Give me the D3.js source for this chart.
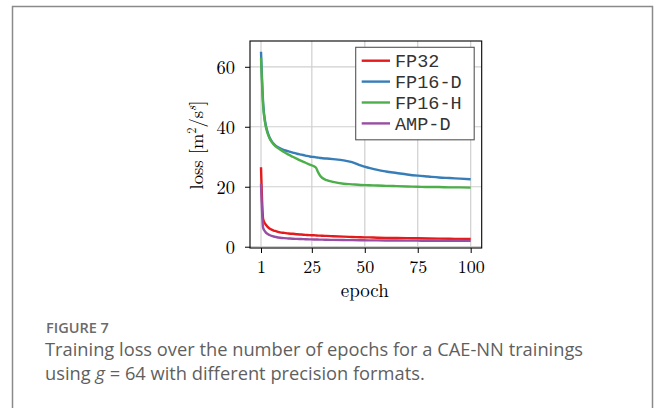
<!DOCTYPE html>
<html>
<head>
<meta charset="utf-8">
<script src="https://cdn.jsdelivr.net/npm/d3@7/dist/d3.min.js"></script>
<style>
  html, body { margin: 0; padding: 0; background: #fff; }
  svg { display: block; }
</style>
</head>
<body>
<svg id="chart" width="658" height="408"></svg>
<script>
// ---- data ----
const epochs = [1,2,3,4,5,6,7,8,10,12,14,16,18,20,22,24,26,27,28,29,30,32,35,40,44,48,52,56,60,65,70,75,80,85,90,95,100];
const fp32  = [26.5,9.2,7.6,6.7,6.1,5.7,5.4,5.2,4.8,4.6,4.4,4.3,4.15,4.05,3.95,3.85,3.8,3.75,3.7,3.7,3.65,3.6,3.5,3.35,3.25,3.15,3.1,3.0,2.95,2.9,2.85,2.8,2.75,2.7,2.65,2.6,2.55];
const fp16d = [65,48,41.5,38.5,36.5,35.2,34.3,33.6,32.8,32.2,31.8,31.4,31.0,30.7,30.4,30.1,29.9,29.8,29.7,29.6,29.5,29.4,29.2,28.8,28.2,27.1,26.3,25.6,25.1,24.6,24.1,23.7,23.4,23.1,22.9,22.7,22.5];
const fp16h = [63,47,41,38,36.2,35.0,34.1,33.4,32.4,31.5,30.7,30.0,29.3,28.6,28.0,27.4,26.8,26.3,24.8,23.6,22.9,22.2,21.6,21.0,20.8,20.6,20.5,20.4,20.3,20.2,20.1,20.0,19.9,19.9,19.8,19.8,19.7];
const ampd  = [21,6.3,5.0,4.3,3.9,3.6,3.4,3.25,3.0,2.85,2.75,2.65,2.6,2.55,2.5,2.45,2.4,2.4,2.38,2.36,2.35,2.3,2.27,2.22,2.18,2.15,2.12,2.1,2.08,2.06,2.04,2.02,2.0,2.0,1.98,1.97,1.95];
const seriesNames = ["FP32","FP16-D","FP16-H","AMP-D"];
const seriesColors = ["#e41a1c","#377eb8","#4daf4a","#984ea3"];
const xTicks = [1,25,50,75,100];
const yTicks = [0,20,40,60];
const captionTitle = "FIGURE 7";
const captionLine1 = "Training loss over the number of epochs for a CAE-NN trainings";

const seriesValues = [fp32, fp16d, fp16h, ampd];
// drawing order (so green sits above blue like the reference)
const drawOrder = [1,2,0,3];

const svg = d3.select("#chart");

// card frame
svg.append("rect").attr("x",12.5).attr("y",6.5).attr("width",640).attr("height",420)
  .attr("fill","none").attr("stroke","#8a8a8a").attr("stroke-width",1.5);

const x = d3.scaleLinear().domain([-4.2,105.2]).range([250,481.7]);
const y = d3.scaleLinear().domain([-0.43,68.6]).range([248,41]);

const serif = "'Latin Modern Roman','CMU Serif','Liberation Serif','DejaVu Serif',serif";

// grid
const g = svg.append("g");
g.selectAll(".gx").data(xTicks).enter().append("line")
  .attr("x1",d=>x(d)).attr("x2",d=>x(d)).attr("y1",41).attr("y2",248)
  .attr("stroke","#cfcfcf").attr("stroke-width",1.2);
g.selectAll(".gy").data(yTicks).enter().append("line")
  .attr("y1",d=>y(d)).attr("y2",d=>y(d)).attr("x1",250).attr("x2",481.7)
  .attr("stroke","#cfcfcf").attr("stroke-width",1.2);

// lines
const line = d3.line().x(d=>x(d[0])).y(d=>y(d[1])).curve(d3.curveMonotoneX);
drawOrder.forEach(i=>{
  svg.append("path")
    .datum(epochs.map((e,k)=>[e,seriesValues[i][k]]))
    .attr("d",line).attr("fill","none")
    .attr("stroke",seriesColors[i]).attr("stroke-width",2.4)
    .attr("stroke-linejoin","round");
});

// axes
const xAxis = svg.append("g").attr("transform","translate(0,248)")
  .call(d3.axisBottom(x).tickValues(xTicks).tickSize(5).tickSizeOuter(0));
const yAxis = svg.append("g").attr("transform","translate(250,0)")
  .call(d3.axisLeft(y).tickValues(yTicks).tickSize(5).tickSizeOuter(0));
[xAxis,yAxis].forEach(a=>{
  a.select(".domain").remove();
  a.selectAll(".tick line").attr("stroke","#000").attr("stroke-width",1);
  a.selectAll(".tick text").attr("font-family",serif).attr("font-size",18.5).attr("fill","#000");
});
xAxis.selectAll(".tick text").attr("dy",null).attr("y",24.5).attr("font-size",18);
yAxis.selectAll(".tick text").attr("x",-15).attr("dy","0.34em");

// axis box
svg.append("rect").attr("x",250).attr("y",41).attr("width",231.7).attr("height",207)
  .attr("fill","none").attr("stroke","#000").attr("stroke-width",1.1);

// axis labels
svg.append("text").attr("x",x(50)).attr("y",296.5).attr("text-anchor","middle")
  .attr("font-family",serif).attr("font-size",19).text("epoch");
const yl = svg.append("text").attr("transform","translate(203,145) rotate(-90)")
  .attr("text-anchor","middle").attr("font-family",serif).attr("font-size",18.5);
yl.append("tspan").text("loss [m");
yl.append("tspan").attr("font-size",12.5).attr("dy",-7).text("2");
yl.append("tspan").attr("dy",7).text("/s");
yl.append("tspan").attr("font-size",12.5).attr("dy",-7).attr("font-style","italic").text("s");
yl.append("tspan").attr("dy",7).text("]");

// legend
svg.append("rect").attr("x",355.7).attr("y",47.3).attr("width",118.5).attr("height",92.5)
  .attr("fill","#fff").attr("stroke","#555").attr("stroke-width",1.1);
seriesNames.forEach((n,i)=>{
  const cy = 60.7 + i*20.9;
  svg.append("line").attr("x1",361.7).attr("x2",390).attr("y1",cy).attr("y2",cy)
    .attr("stroke",seriesColors[i]).attr("stroke-width",2.4);
  svg.append("text").attr("x",395).attr("y",cy+6.2)
    .attr("font-family","'Liberation Mono','DejaVu Sans Mono',monospace")
    .attr("font-size",18.5).attr("fill","#333").text(n);
});

// caption
const sans = "'Open Sans','Noto Sans',sans-serif";
svg.append("text").attr("x",46).attr("y",333).attr("font-family",sans)
  .attr("font-size",14.5).attr("font-weight",600).attr("fill","#6b6b6b").text(captionTitle);
svg.append("text").attr("x",45).attr("y",355.5).attr("font-family",sans)
  .attr("font-size",18.3).attr("fill","#5f5f5f").text(captionLine1);
const l2 = svg.append("text").attr("x",45).attr("y",379.5).attr("font-family",sans)
  .attr("font-size",18.3).attr("fill","#5f5f5f");
l2.append("tspan").text("using ");
l2.append("tspan").attr("font-style","italic").text("g");
l2.append("tspan").text(" = 64 with different precision formats.");
</script>
</body>
</html>
